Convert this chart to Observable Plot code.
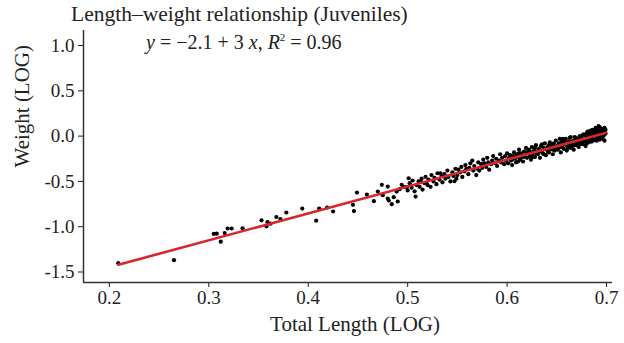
<!DOCTYPE html>
<html>
<head>
<meta charset="utf-8">
<script src="https://cdn.jsdelivr.net/npm/d3@7"></script>
<script src="https://cdn.jsdelivr.net/npm/@observablehq/plot@0.6"></script>
<style>
  body { margin: 0; background: #fff; }
  #wrap { position: relative; width: 624px; height: 343px; font-family: "Liberation Serif", serif; color: #222; }
  #title { position: absolute; left: 71px; top: 2px; font-size: 21.5px; white-space: nowrap; }
  #eq { position: absolute; left: 146px; top: 31px; font-size: 20px; white-space: nowrap; }
  #eq i { font-style: italic; }
</style>
</head>
<body>
<div id="wrap">
  <div id="chart"></div>
  <div id="title">Length–weight relationship (Juveniles)</div>
  <div id="eq"><i>y</i> = −2.1 + 3 <i>x</i>, <i>R</i><sup style="font-size:11px">2</sup> = 0.96</div>
</div>
<script>
const xLabel = "Total Length (LOG)";
const yLabel = "Weight (LOG)";
const xTicks = [0.2, 0.3, 0.4, 0.5, 0.6, 0.7];
const yTicks = [-1.5, -1.0, -0.5, 0.0, 0.5, 1.0];
const xDomain = [0.174, 0.706];
const yDomain = [-1.616, 1.166];

const lengthLog = [
  0.209, 0.265, 0.305, 0.308, 0.312, 0.316, 0.319, 0.323, 0.334, 0.353, 0.358, 0.359, 0.362, 0.368, 0.372, 0.378, 0.394, 0.408, 0.411, 0.419, 0.425,
  0.445, 0.446, 0.449, 0.459, 0.466, 0.470, 0.474, 0.475, 0.480, 0.480, 0.481, 0.484, 0.486, 0.489, 0.490, 0.492, 0.494, 0.496, 0.499,
  0.500, 0.502, 0.504, 0.505, 0.507, 0.509, 0.511, 0.512, 0.514, 0.515, 0.517, 0.518, 0.520, 0.521, 0.523, 0.524, 0.526, 0.527, 0.529, 0.530,
  0.532, 0.534, 0.535, 0.537, 0.538, 0.540, 0.541, 0.543, 0.545, 0.546, 0.548, 0.549, 0.501, 0.508, 0.513, 0.519, 0.533, 0.539, 0.547,
  0.550, 0.551, 0.553, 0.554, 0.555, 0.557, 0.558, 0.559, 0.561, 0.562, 0.563, 0.565, 0.566, 0.567, 0.569, 0.570, 0.571, 0.572, 0.574, 0.575,
  0.576, 0.577, 0.579, 0.580, 0.581, 0.582, 0.584, 0.585, 0.586, 0.588, 0.589, 0.590, 0.592, 0.593, 0.594, 0.595, 0.597, 0.598, 0.599, 0.600,
  0.601, 0.602, 0.603, 0.604, 0.605, 0.606, 0.607, 0.608, 0.609, 0.610, 0.611, 0.612, 0.613, 0.614, 0.615, 0.616, 0.617, 0.618, 0.619, 0.620,
  0.621, 0.622, 0.623, 0.624, 0.625, 0.626, 0.627, 0.628, 0.629, 0.630, 0.631, 0.632, 0.633, 0.634, 0.635, 0.636, 0.637, 0.638, 0.639, 0.640,
  0.641, 0.642, 0.643, 0.644, 0.645, 0.646, 0.647, 0.648, 0.649, 0.650, 0.605, 0.611, 0.617, 0.623, 0.629, 0.635, 0.641, 0.647,
  0.651, 0.652, 0.653, 0.654, 0.655, 0.656, 0.657, 0.658, 0.659, 0.660, 0.661, 0.662, 0.663, 0.664, 0.665, 0.666, 0.667, 0.668, 0.669, 0.670,
  0.671, 0.672, 0.673, 0.674, 0.675, 0.676, 0.677, 0.678, 0.679, 0.680, 0.681, 0.682, 0.683, 0.684, 0.685, 0.686, 0.687, 0.688, 0.689, 0.690,
  0.691, 0.692, 0.693, 0.694, 0.695, 0.696, 0.697, 0.698,
  0.655, 0.659, 0.663, 0.667, 0.671, 0.675, 0.679, 0.683, 0.686, 0.688, 0.690, 0.692, 0.694, 0.696, 0.698, 0.699, 0.684, 0.680, 0.676, 0.672,
  0.668, 0.664, 0.661, 0.657, 0.653, 0.697, 0.693, 0.689, 0.685, 0.681,
  0.603, 0.609, 0.614, 0.619, 0.624, 0.628, 0.633, 0.638, 0.642, 0.646, 0.649, 0.612, 0.626, 0.637,
  0.652, 0.656, 0.660, 0.662, 0.665, 0.669, 0.670, 0.673, 0.674, 0.677, 0.678, 0.681, 0.682, 0.685, 0.687, 0.688, 0.690, 0.691, 0.692, 0.694,
  0.695, 0.696, 0.697, 0.698, 0.699, 0.693, 0.689, 0.686, 0.683, 0.680
];
const weightLog = [
  -1.403, -1.37, -1.08, -1.077, -1.165, -1.07, -1.02, -1.02, -1.018, -0.93, -0.996, -0.95, -0.967, -0.893, -0.915, -0.843, -0.80, -0.934, -0.80, -0.788, -0.832,
  -0.758, -0.828, -0.623, -0.645, -0.718, -0.612, -0.538, -0.652, -0.557, -0.689, -0.711, -0.751, -0.674, -0.612, -0.722, -0.586, -0.538, -0.56, -0.564,
  -0.60, -0.52, -0.57, -0.49, -0.61, -0.54, -0.50, -0.56, -0.47, -0.59, -0.52, -0.45, -0.54, -0.48, -0.56, -0.43, -0.50, -0.46, -0.53, -0.41,
  -0.48, -0.44, -0.51, -0.42, -0.47, -0.38, -0.45, -0.50, -0.40, -0.44, -0.36, -0.47, -0.465, -0.667, -0.502, -0.52, -0.41, -0.447, -0.498,
  -0.43, -0.37, -0.40, -0.34, -0.45, -0.39, -0.32, -0.36, -0.42, -0.35, -0.30, -0.27, -0.38, -0.33, -0.43, -0.36, -0.29, -0.38, -0.31, -0.35,
  -0.26, -0.30, -0.34, -0.24, -0.29, -0.37, -0.31, -0.27, -0.22, -0.30, -0.25, -0.33, -0.27, -0.20, -0.29, -0.24, -0.31, -0.22, -0.27, -0.19,
  -0.30, -0.24, -0.21, -0.27, -0.32, -0.22, -0.18, -0.25, -0.29, -0.20, -0.23, -0.15, -0.26, -0.19, -0.22, -0.28, -0.17, -0.21, -0.13, -0.24,
  -0.18, -0.15, -0.22, -0.26, -0.12, -0.19, -0.16, -0.23, -0.10, -0.17, -0.20, -0.14, -0.24, -0.11, -0.16, -0.19, -0.13, -0.08, -0.21, -0.15,
  -0.12, -0.18, -0.07, -0.14, -0.10, -0.20, -0.12, -0.16, -0.05, -0.11, -0.26, -0.28, -0.23, -0.17, -0.19, -0.09, -0.17, -0.08,
  -0.15, -0.08, -0.12, -0.18, -0.06, -0.10, -0.14, -0.04, -0.09, -0.16, -0.07, -0.11, -0.02, -0.13, -0.06, -0.09, -0.15, -0.01, -0.05, -0.10,
  -0.03, -0.12, 0.00, -0.07, -0.04, -0.09, 0.02, -0.05, -0.11, 0.03, -0.02, -0.07, 0.05, -0.01, -0.06, 0.07, 0.01, -0.04, 0.09, 0.03,
  -0.02, 0.06, 0.10, 0.00, 0.04, -0.03, 0.08, 0.02,
  -0.12, -0.03, -0.09, -0.05, -0.08, -0.01, -0.04, -0.03, 0.00, 0.05, -0.05, 0.11, 0.07, 0.05, -0.05, 0.07, 0.06, -0.08, 0.01, -0.05,
  -0.10, -0.01, -0.13, -0.07, -0.03, 0.00, 0.03, -0.01, 0.02, 0.05,
  -0.25, -0.22, -0.24, -0.18, -0.20, -0.13, -0.17, -0.14, -0.10, -0.15, -0.13, -0.19, -0.23, -0.20,
  -0.13, -0.03, -0.10, -0.06, -0.12, -0.02, -0.07, -0.09, -0.02, -0.06, 0.01, -0.05, 0.02, -0.03, 0.04, -0.02, 0.07, 0.02, -0.01, 0.04,
  0.08, 0.01, 0.05, 0.09, 0.03, -0.04, 0.06, -0.05, 0.00, -0.02
];

const points = lengthLog.map((x, i) => ({x, y: weightLog[i]}));

const chart = Plot.plot({
  width: 624,
  height: 343,
  marginLeft: 83,
  marginRight: 12,
  marginTop: 30,
  marginBottom: 61,
  style: {fontFamily: "Liberation Serif, serif", fontSize: "19px", color: "#222", background: "#fff"},
  x: {domain: xDomain, ticks: xTicks, tickFormat: d => d.toFixed(1), label: null, tickSize: 5, tickPadding: 3},
  y: {domain: yDomain, ticks: yTicks, tickFormat: d => d.toFixed(1), label: null, tickSize: 5, tickPadding: 4},
  marks: [
    Plot.ruleX([xDomain[0]], {stroke: "#333", strokeWidth: 1.5}),
    Plot.ruleY([yDomain[0]], {stroke: "#333", strokeWidth: 1.5}),
    Plot.dot(points, {x: "x", y: "y", r: 2.1, fill: "#000", stroke: "none"}),
    Plot.linearRegressionY(points, {x: "x", y: "y", stroke: "#d9262a", strokeWidth: 2.6, ci: 0}),
    Plot.text([xLabel], {frameAnchor: "bottom", dx: 7, dy: 42, text: d => d, fontSize: 21, lineAnchor: "middle"}),
    Plot.text([yLabel], {frameAnchor: "left", dx: -61, dy: 11, rotate: -90, text: d => d, fontSize: 21, lineAnchor: "middle"})
  ]
});
document.getElementById("chart").appendChild(chart);
</script>
</body>
</html>
